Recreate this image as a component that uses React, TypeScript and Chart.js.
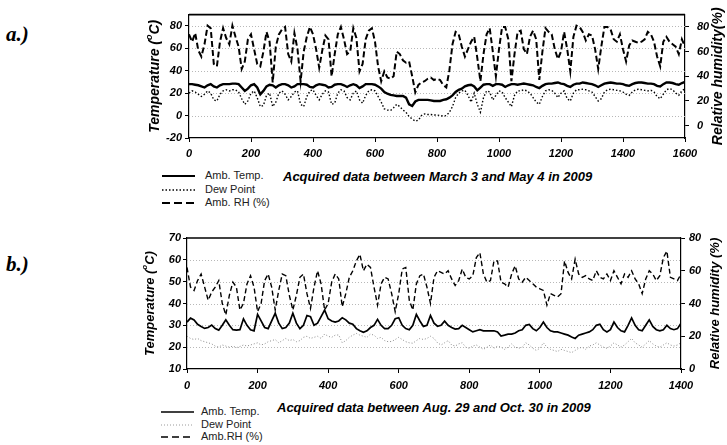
import React, { useEffect, useRef } from "react";
import { Chart, registerables } from "chart.js";
Chart.register(...registerables);

const FONT = "'Liberation Sans', Arial, Helvetica, sans-serif";

// ---------- Panel a (March 3 - May 4, 2009) ----------
const A_STEP = 10;
const aTemp = [
  28, 28, 27.5, 27, 26, 25, 27, 28, 26, 25, 27, 28, 28, 28, 28.5, 28.5, 28, 25, 22, 24,
  27, 28, 25, 19, 22, 26, 27.5, 27, 25, 27, 28, 28, 27, 25, 26, 28, 28, 28, 27.5, 25.5,
  25, 27, 28, 27.5, 27, 25, 25.5, 27.5, 28, 28, 27, 25.5, 27, 28, 27, 24.5, 26, 28, 28, 28,
  27.5, 26, 24, 21, 19.5, 18.5, 18, 17.5, 17.5, 17.5, 16, 10, 8.5, 12.5, 14, 14, 14, 14, 13.5, 13,
  13, 13, 14, 14.5, 16, 18, 21, 23, 24, 26, 27, 27.5, 26, 22.5, 25, 27.5, 28, 28, 26.5, 28,
  28, 27.5, 25.5, 27, 28, 28, 27.5, 28, 28.5, 28, 27.5, 27, 25.5, 24.5, 26.5, 28, 28.5, 28.5, 29, 29.5,
  28.5, 28, 26.5, 25.5, 27.5, 28.5, 28.5, 29.5, 29, 28.5, 28, 27, 25.5, 27, 28.5, 29, 29.5, 29, 28.5, 28.5,
  28, 27, 26.5, 28, 29, 29.5, 29.5, 29, 28.5, 28.5, 28, 26.5, 26, 28, 29.5, 29.5, 29, 28, 27.5, 29,
  30,
];
const aDew = [
  20, 22, 21, 19, 17, 19, 22, 20, 14, 13, 19, 22, 23, 22, 23, 23, 21, 15, 10, 13,
  20, 22, 16, 8, 9, 18, 20, 8, 12, 20, 22, 19, 14, 17, 21, 22, 10, 8, 17, 22,
  23, 18, 14, 19, 22, 21, 10, 11, 20, 23, 22, 16, 14, 20, 22, 14, 11, 18, 22, 23,
  22, 17, 12, 6, 5, 4.5, 7, 10, 8, 5, 3, -1, -3, -5, -4, 0, 1.5, 1, 1, 0.5,
  0.5, 0, -0.5, 0, 3, 8, 16, 20, 22, 22.5, 18, 12, 20, 10, 3, 16, 22, 21, 14, 18,
  22, 21, 16, 12, 8, 18, 22, 22, 23, 22, 20, 16, 12, 10, 17, 22, 23, 22.5, 20, 16,
  20, 22, 15, 13, 20, 23, 23, 23.5, 23, 22, 21, 17, 13, 15, 21, 23, 23.5, 23, 22.5, 22,
  21, 19, 18, 21, 23, 23.5, 23, 22.5, 22, 22.5, 21, 17, 15, 19, 23, 24, 23, 20, 18, 22,
  24,
];
const aRH = [
  74, 68, 75, 61, 56, 66, 81, 79, 50, 48, 68, 79, 71, 66, 81, 72, 64, 46, 52, 70,
  74, 62, 50, 48, 60, 76, 68, 35, 64, 74, 78, 80, 58, 52, 75, 62, 36, 60, 72, 80,
  74, 62, 47, 61, 73, 70, 40, 58, 74, 80, 70, 58, 60, 79, 71, 44, 50, 70, 77, 79,
  68, 48, 36, 44, 39, 38, 40, 60, 58, 53, 51, 52, 40, 27, 33, 35, 36, 38, 39, 37,
  38, 37, 33, 31, 45, 66, 76, 74, 64, 56, 62, 68, 72, 55, 36, 58, 74, 79, 60, 40,
  62, 80, 80, 70, 36, 58, 76, 77, 62, 58, 72, 77, 70, 37, 60, 79, 76, 74, 62, 54,
  60, 76, 62, 44, 72, 81, 80, 76, 69, 74, 73, 62, 46, 64, 80, 80, 78, 70, 68, 74,
  62, 52, 65, 69, 68, 67, 68, 70, 76, 74, 68, 56, 48, 68, 72, 68, 66, 64, 58, 70,
  64,
];
const aXTicks = [0, 200, 400, 600, 800, 1000, 1200, 1400, 1600];
const aLeftTicks = [-20, 0, 20, 40, 60, 80];
const aRightTicks = [0, 20, 40, 60, 80];

// ---------- Panel b (Aug. 29 - Oct. 30, 2009) ----------
const B_STEP = 10;
const bTemp = [
  31.5, 33.3, 32.5, 30.5, 29.5, 28.6, 29, 30.1, 28.5, 27.8, 30, 32.5, 30, 28, 27.8, 28, 33, 30, 28, 27.5,
  35, 32, 29, 28.5, 32, 35.5, 31, 28.5, 29, 31, 35.5, 31, 28.5, 30, 34.5, 34, 30, 31, 34, 37,
  33, 32, 31.5, 32, 33.5, 32.5, 31, 30.5, 28.5, 27.5, 26.8, 27.5, 29, 30, 32.7, 30, 28.5, 28.5, 30, 33,
  33.5, 30, 28.5, 28, 30, 35, 32, 29.5, 30, 34.5, 31, 29.6, 30, 31.9, 30, 29, 28.3, 28.5, 30, 29,
  28, 27, 27.5, 28, 27.5, 27.5, 27.5, 27.5, 27, 25.1, 25.5, 26, 26, 26.5, 27.5, 28, 30, 30.4, 28.5, 27.5,
  29, 31.5, 29, 27.5, 27, 27, 26.5, 26, 25.5, 24.7, 24, 25.5, 26, 26.5, 27, 28, 30, 30.5, 28, 27,
  28, 31.5, 29, 27.5, 27, 30, 33.4, 30, 28, 27.5, 30, 32.5, 29.5, 28, 27.5, 28, 30, 28.5, 28, 28.5,
  31,
];
const bDew = [
  25, 24, 23.5, 24, 23, 22.5, 22, 21.5, 20.5, 20, 21, 20.5, 20, 20.5, 19.8, 20.3, 21, 20.5, 21, 21.5,
  22, 21, 21.5, 22.5, 23, 23.5, 22, 23, 24, 23, 23.5, 22.5, 23, 24.5, 25, 24, 24.5, 25, 24, 26,
  25, 24.5, 25.5, 25.6, 22, 23, 24.5, 25.5, 26.3, 25.5, 25, 24.5, 26, 25.5, 24, 24.5, 23, 22.5, 22.6, 23.5,
  24.5, 23.5, 22.5, 22, 21.8, 23, 24, 23.5, 24, 25, 24, 22, 21, 22, 23, 21, 20.5, 21.5, 22, 20,
  19.5, 20.5, 21, 20, 19, 20, 21, 19.5, 20.5, 20, 19, 20, 21.5, 20, 19.5, 20, 22, 21, 19.5, 18.5,
  19.5, 22, 20, 19, 18.5, 18, 19, 18.5, 18, 17.5, 18.5, 19.5, 20, 19, 20.5, 21, 22, 21, 20, 19.5,
  20.5, 22, 21, 20, 21, 22.5, 24, 22, 21, 20, 21.5, 23, 21.5, 20.5, 20, 21, 22, 21, 20.5, 21,
  22,
];
const bRH = [
  62, 50, 48, 54, 58, 50, 42, 47, 50, 54, 40, 33, 45, 53, 50, 36, 40, 52, 57, 50,
  35, 40, 54, 58, 50, 36, 48, 58, 57, 45, 36, 45, 56, 58, 46, 37, 50, 60, 52, 36,
  40, 53, 58, 55, 38, 46, 56, 60, 66, 70, 60, 64, 62, 50, 39, 52, 56, 55, 46, 35,
  46, 61, 62, 42, 36, 52, 57, 58, 50, 40, 56, 60, 59, 58, 60, 55, 51, 54, 61, 56,
  55, 57, 68, 71, 58, 53, 54, 66, 66, 53, 52, 50, 58, 63, 55, 53, 56, 54, 52, 50,
  49, 48, 39, 46, 45, 44, 46, 66, 59, 55, 67, 58, 56, 57, 55, 54, 60, 56, 55, 58,
  54, 60, 56, 52, 58, 56, 60, 55, 52, 46, 55, 60, 58, 54, 57, 68, 72, 56, 55, 54,
  58,
];
const bXTicks = [0, 200, 400, 600, 800, 1000, 1200, 1400];
const bLeftTicks = [10, 20, 30, 40, 50, 60, 70];
const bRightTicks = [0, 20, 40, 60, 80];

type Part = { t: string; sup?: boolean };

function drawRotated(ctx: CanvasRenderingContext2D, x: number, yc: number, parts: Part[], fs: number) {
  ctx.save();
  const fonts = parts.map((p) => `italic bold ${p.sup ? Math.round(fs * 0.62) : fs}px ${FONT}`);
  let total = 0;
  const widths = parts.map((p, i) => {
    ctx.font = fonts[i];
    const w = ctx.measureText(p.t).width;
    total += w;
    return w;
  });
  ctx.translate(x, yc);
  ctx.rotate(-Math.PI / 2);
  ctx.fillStyle = "#000";
  ctx.textBaseline = "middle";
  ctx.textAlign = "left";
  let cx = -total / 2;
  parts.forEach((p, i) => {
    ctx.font = fonts[i];
    ctx.fillText(p.t, cx, p.sup ? -fs * 0.38 : 0);
    cx += widths[i];
  });
  ctx.restore();
}

interface PanelCfg {
  temp: number[];
  dew: number[];
  rh: number[];
  step: number;
  xMax: number;
  xTicks: number[];
  leftMin: number;
  leftMax: number;
  leftTicks: number[];
  rightMin: number;
  rightMax: number;
  rightTicks: number[];
  gridTicks: number[];
  leftW: number;
  rightW: number;
  xH: number;
  padTop: number;
  leftGap: number;
  rightGap: number;
  xGap: number;
  leftTitleX: number;
  rightTitleX: number;
  rightTitle: Part[];
  titleSize: number;
  dewColor: string;
  dewWidth: number;
  dewDash: number[];
  lineW: number;
  tempW: number;
  rhDash: number[];
}

const tickFont = { family: FONT, size: 11, weight: "bold" as const, style: "italic" as const };
const plain = (v: any) => String(v);

function makeChart(canvas: HTMLCanvasElement, c: PanelCfg) {
  const pts = (arr: number[]) => arr.map((v, i) => ({ x: i * c.step, y: v }));
  const decor = {
    id: "decor",
    beforeDatasetsDraw(chart: any) {
      const { ctx, chartArea: a, scales } = chart;
      ctx.save();
      ctx.strokeStyle = "#b8b8b8";
      ctx.lineWidth = 1;
      ctx.setLineDash([1, 2]);
      for (const t of c.gridTicks) {
        const py = Math.round(scales.y.getPixelForValue(t)) + 0.5;
        ctx.beginPath();
        ctx.moveTo(a.left, py);
        ctx.lineTo(a.right, py);
        ctx.stroke();
      }
      ctx.restore();
    },
    afterDraw(chart: any) {
      const { ctx, chartArea: a } = chart;
      ctx.save();
      ctx.strokeStyle = "#000";
      ctx.lineWidth = 1.6;
      ctx.beginPath();
      ctx.moveTo(a.left, a.top);
      ctx.lineTo(a.right, a.top);
      ctx.stroke();
      ctx.restore();
      const yc = (a.top + a.bottom) / 2;
      drawRotated(ctx, c.leftTitleX, yc, [{ t: "Temperature (" }, { t: "o", sup: true }, { t: "C)" }], c.titleSize);
      drawRotated(ctx, c.rightTitleX, yc, c.rightTitle, c.titleSize);
    },
  };
  return new Chart(canvas, {
    type: "line",
    data: {
      datasets: [
        {
          label: "RH",
          data: pts(c.rh),
          yAxisID: "y2",
          borderColor: "#000",
          borderWidth: c.lineW,
          borderDash: c.rhDash,
          pointRadius: 0,
          tension: 0,
        },
        {
          label: "Dew",
          data: pts(c.dew),
          yAxisID: "y",
          borderColor: c.dewColor,
          borderWidth: c.dewWidth,
          borderDash: c.dewDash,
          pointRadius: 0,
          tension: 0,
        },
        {
          label: "Temp",
          data: pts(c.temp),
          yAxisID: "y",
          borderColor: "#000",
          borderWidth: c.tempW,
          pointRadius: 0,
          tension: 0,
        },
      ],
    },
    options: {
      animation: false,
      responsive: false,
      maintainAspectRatio: false,
      layout: { padding: { top: c.padTop, left: 0, right: 0, bottom: 0 } },
      plugins: { legend: { display: false }, tooltip: { enabled: false }, title: { display: false } },
      scales: {
        x: {
          type: "linear",
          min: 0,
          max: c.xMax,
          afterBuildTicks: (s: any) => {
            s.ticks = c.xTicks.map((v) => ({ value: v }));
          },
          afterFit: (s: any) => {
            s.height = c.xH;
          },
          ticks: { font: tickFont, color: "#000", padding: c.xGap, maxRotation: 0, autoSkip: false, callback: plain },
          grid: { display: true, drawOnChartArea: false, drawTicks: true, tickLength: 4, color: "#000", lineWidth: 1 },
          border: { display: true, color: "#000", width: 1.2 },
        },
        y: {
          type: "linear",
          position: "left",
          min: c.leftMin,
          max: c.leftMax,
          afterBuildTicks: (s: any) => {
            s.ticks = c.leftTicks.map((v) => ({ value: v }));
          },
          afterFit: (s: any) => {
            s.width = c.leftW;
          },
          ticks: { font: tickFont, color: "#000", padding: c.leftGap, autoSkip: false, callback: plain },
          grid: { display: true, drawOnChartArea: false, drawTicks: true, tickLength: 4, color: "#000", lineWidth: 1 },
          border: { display: true, color: "#000", width: 1.2 },
        },
        y2: {
          type: "linear",
          position: "right",
          min: c.rightMin,
          max: c.rightMax,
          afterBuildTicks: (s: any) => {
            s.ticks = c.rightTicks.map((v) => ({ value: v }));
          },
          afterFit: (s: any) => {
            s.width = c.rightW;
          },
          ticks: { font: tickFont, color: "#000", padding: c.rightGap, autoSkip: false, callback: plain },
          grid: { display: true, drawOnChartArea: false, drawTicks: true, tickLength: 4, color: "#000", lineWidth: 1 },
          border: { display: true, color: "#000", width: 1.2 },
        },
      },
    },
    plugins: [decor],
  } as any);
}

const cfgA: PanelCfg = {
  temp: aTemp,
  dew: aDew,
  rh: aRH,
  step: A_STEP,
  xMax: 1600,
  xTicks: aXTicks,
  leftMin: -20,
  leftMax: 90,
  leftTicks: aLeftTicks,
  rightMin: -10,
  rightMax: 90,
  rightTicks: aRightTicks,
  gridTicks: [0, 20, 40, 60, 80],
  leftW: 69,
  rightW: 42,
  xH: 22,
  padTop: 7,
  leftGap: 3,
  rightGap: 8,
  xGap: 5,
  leftTitleX: 35,
  rightTitleX: 598,
  rightTitle: [{ t: "Relative humidity(%)" }],
  titleSize: 14,
  dewColor: "#000",
  dewWidth: 1.4,
  dewDash: [1.5, 2],
  lineW: 2,
  tempW: 2.4,
  rhDash: [6, 3],
};

const cfgB: PanelCfg = {
  temp: bTemp,
  dew: bDew,
  rh: bRH,
  step: B_STEP,
  xMax: 1400,
  xTicks: bXTicks,
  leftMin: 10,
  leftMax: 70,
  leftTicks: bLeftTicks,
  rightMin: 0,
  rightMax: 80,
  rightTicks: bRightTicks,
  gridTicks: [20, 30, 40, 50, 60],
  leftW: 67,
  rightW: 46,
  xH: 21,
  padTop: 13,
  leftGap: 2,
  rightGap: 4,
  xGap: 6,
  leftTitleX: 30,
  rightTitleX: 595,
  rightTitle: [{ t: "Relative humidity (%)" }],
  titleSize: 13,
  dewColor: "#8a8a8a",
  dewWidth: 1,
  dewDash: [1, 2],
  lineW: 1.4,
  tempW: 1.7,
  rhDash: [5, 3],
};

function Panel({ cfg, left, top, width, height }: { cfg: PanelCfg; left: number; top: number; width: number; height: number }) {
  const ref = useRef<HTMLCanvasElement | null>(null);
  useEffect(() => {
    if (!ref.current) return;
    const ch = makeChart(ref.current, cfg);
    return () => ch.destroy();
  }, [cfg]);
  return (
    <div style={{ position: "absolute", left, top, width, height }}>
      <canvas ref={ref} width={width} height={height} style={{ width, height, display: "block" }} />
    </div>
  );
}

type LegendRow = { label: string; dash: string; color: string; w: number };

function Legend({ left, top, rows, textLeft, gap }: { left: number; top: number; rows: LegendRow[]; textLeft: number; gap: number }) {
  return (
    <>
      {rows.map((r, i) => (
        <React.Fragment key={i}>
          <svg style={{ position: "absolute", left, top: top + i * gap - 3 }} width={34} height={6}>
            <line x1={0} y1={3} x2={33} y2={3} stroke={r.color} strokeWidth={r.w} strokeDasharray={r.dash} />
          </svg>
          <div
            style={{
              position: "absolute",
              left: textLeft,
              top: top + i * gap - 7,
              height: 14,
              lineHeight: "14px",
              font: `11px ${FONT}`,
              color: "#222",
              whiteSpace: "nowrap",
            }}
          >
            {r.label}
          </div>
        </React.Fragment>
      ))}
    </>
  );
}

const titleStyle = (left: number, cy: number): React.CSSProperties => ({
  position: "absolute",
  left,
  top: cy - 8,
  height: 16,
  lineHeight: "16px",
  font: `italic bold 13px ${FONT}`,
  color: "#000",
  whiteSpace: "nowrap",
});

const tagStyle = (cy: number): React.CSSProperties => ({
  position: "absolute",
  left: 6,
  top: cy - 12,
  height: 24,
  lineHeight: "24px",
  font: `italic bold 21px 'Liberation Serif', 'Times New Roman', serif`,
  color: "#000",
});

export default function App() {
  return (
    <div style={{ position: "fixed", left: 0, top: 0, width: 727, height: 445, background: "#fff", overflow: "hidden" }}>
      <div style={tagStyle(34)}>a.)</div>
      <div style={tagStyle(264)}>b.)</div>
      <Panel cfg={cfgA} left={120} top={0} width={607} height={160} />
      <Panel cfg={cfgB} left={120} top={225} width={607} height={165} />
      <Legend
        left={162}
        top={176}
        textLeft={205}
        gap={13.5}
        rows={[
          { label: "Amb. Temp.", dash: "", color: "#000", w: 1.8 },
          { label: "Dew Point", dash: "1.5 2", color: "#000", w: 1.4 },
          { label: "Amb. RH (%)", dash: "8 4", color: "#000", w: 1.8 },
        ]}
      />
      <div style={titleStyle(283, 177)}>Acquired data between March 3 and May 4 in 2009</div>
      <Legend
        left={161}
        top={412}
        textLeft={201}
        gap={12.5}
        rows={[
          { label: "Amb. Temp.", dash: "", color: "#000", w: 1.4 },
          { label: "Dew Point", dash: "1 2", color: "#9a9a9a", w: 1 },
          { label: "Amb.RH (%)", dash: "7 4", color: "#000", w: 1.4 },
        ]}
      />
      <div style={titleStyle(277, 408)}>Acquired data between Aug. 29 and Oct. 30 in 2009</div>
    </div>
  );
}
